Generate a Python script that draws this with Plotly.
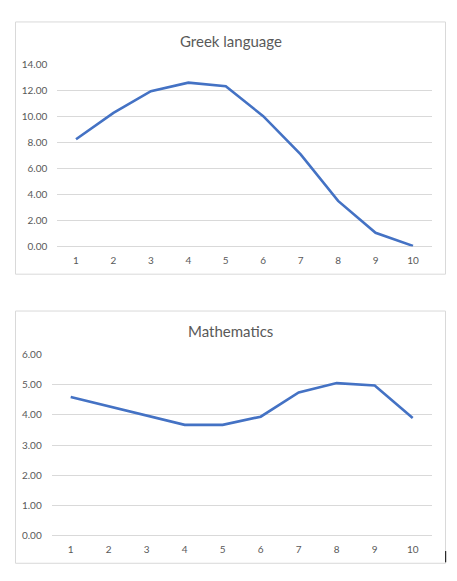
import plotly.graph_objects as go

W, H = 457, 581

categories = ["1", "2", "3", "4", "5", "6", "7", "8", "9", "10"]
greek_values = [8.27, 10.30, 11.98, 12.64, 12.36, 10.05, 7.11, 3.52, 1.06, 0.05]
math_values = [4.59, 4.28, 3.97, 3.67, 3.67, 3.94, 4.74, 5.05, 4.97, 3.90]
greek_yticks = [0, 2, 4, 6, 8, 10, 12, 14]
math_yticks = [0, 1, 2, 3, 4, 5, 6]

LINE = "#4472C4"
GRID = "#D9D9D9"
TXT = "#595959"
FONT = "Lato, 'Open Sans', sans-serif"


def px(x):
    return x / W


def py(y):
    return 1 - y / H


fig = go.Figure()
fig.add_trace(go.Scatter(x=categories, y=greek_values, mode="lines",
                         line=dict(color=LINE, width=2.6), xaxis="x", yaxis="y",
                         showlegend=False, hoverinfo="skip"))
fig.add_trace(go.Scatter(x=categories, y=math_values, mode="lines",
                         line=dict(color=LINE, width=2.6), xaxis="x2", yaxis="y2",
                         showlegend=False, hoverinfo="skip"))

xcommon = dict(type="category", range=[-0.5, 9.5], showgrid=False, zeroline=False,
               showline=False, ticks="", tickfont=dict(family=FONT, size=10, color=TXT),
               ticklabelstandoff=6, fixedrange=True)
ycommon = dict(showgrid=True, gridcolor=GRID, gridwidth=1, zeroline=True,
               zerolinecolor=GRID, zerolinewidth=1, showline=False, ticks="",
               tickformat=".2f", tickfont=dict(family=FONT, size=10, color=TXT),
               ticklabelstandoff=9, fixedrange=True)

fig.update_layout(
    width=W, height=H,
    margin=dict(l=0, r=0, t=0, b=0),
    paper_bgcolor="white", plot_bgcolor="white",
    xaxis=dict(xcommon, domain=[px(57.3), px(431.7)], anchor="y"),
    yaxis=dict(ycommon, domain=[py(245), py(59.3)], range=[0, 14],
               tickvals=greek_yticks, anchor="x"),
    xaxis2=dict(xcommon, domain=[px(51.7), px(431.7)], anchor="y2"),
    yaxis2=dict(ycommon, domain=[py(541), py(355.3)], range=[0, 6],
                tickvals=math_yticks, anchor="x2"),
    shapes=[
        dict(type="rect", xref="paper", yref="paper", x0=px(15.5), x1=px(445.5),
             y0=py(273.3), y1=py(15.3), line=dict(color=GRID, width=1), layer="below"),
        dict(type="rect", xref="paper", yref="paper", x0=px(15.5), x1=px(445.5),
             y0=py(569), y1=py(311), line=dict(color=GRID, width=1), layer="below"),
        dict(type="line", xref="paper", yref="paper", x0=px(445.7), x1=px(445.7),
             y0=py(568), y1=py(556.5), line=dict(color="black", width=1)),
    ],
    annotations=[
        dict(text="Greek language", xref="paper", yref="paper", x=px(230.5), y=py(35),
             xanchor="center", yanchor="middle", showarrow=False,
             font=dict(family=FONT, size=15, color=TXT)),
        dict(text="Mathematics", xref="paper", yref="paper", x=px(230.5), y=py(331),
             xanchor="center", yanchor="middle", showarrow=False,
             font=dict(family=FONT, size=15, color=TXT)),
    ],
)

fig.write_html("out.html", config={"displayModeBar": False},
               post_script="document.body.style.margin='0';document.body.style.overflow='hidden';")
